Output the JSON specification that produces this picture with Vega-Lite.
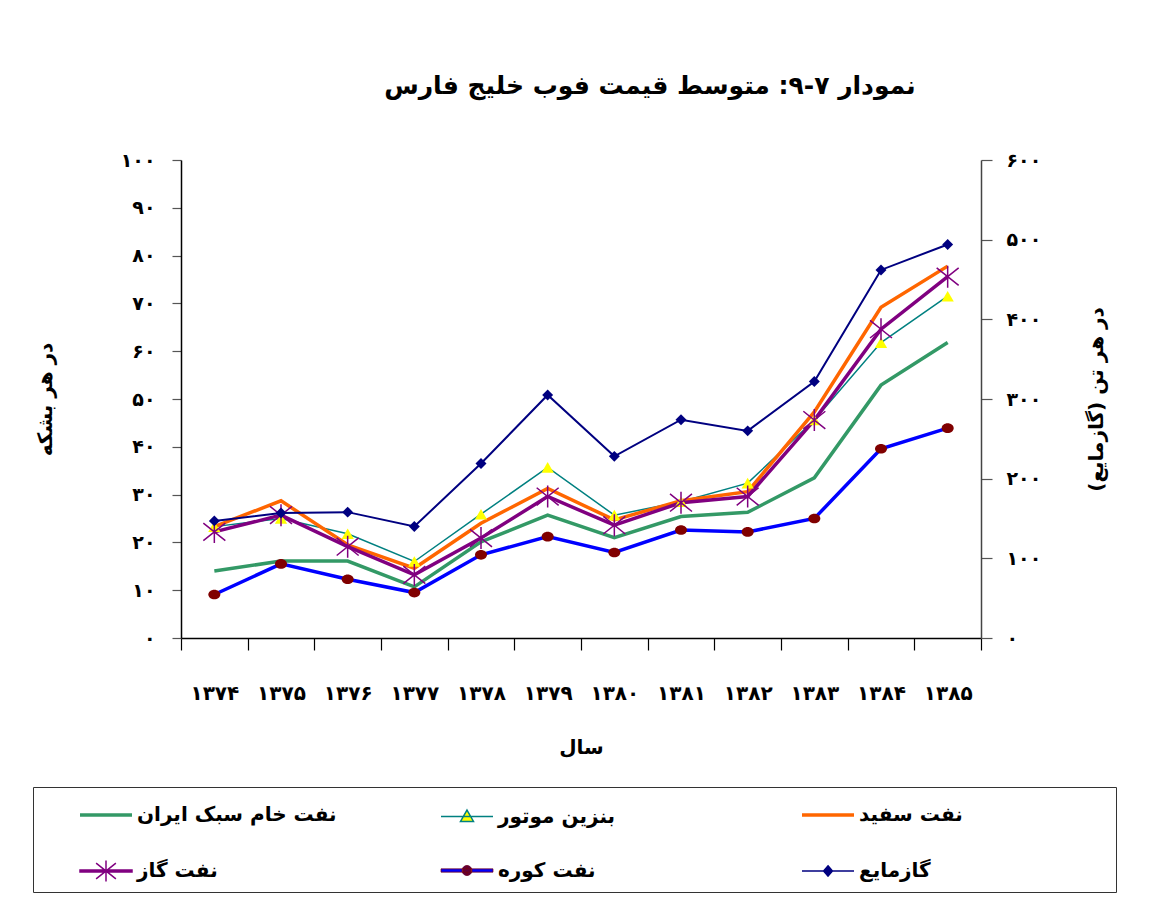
{
  "$schema": "https://vega.github.io/schema/vega-lite/v6.json",
  "width": 800,
  "height": 478,
  "autosize": {"type": "none"},
  "padding": {"left": 181, "top": 160, "right": 176, "bottom": 276},
  "background": "white",
  "title": {
    "text": "نمودار ۷-۹: متوسط قیمت فوب خلیج فارس",
    "font": "DejaVu Sans",
    "fontSize": 25,
    "fontWeight": "bold",
    "color": "black",
    "anchor": "middle",
    "dx": 69,
    "offset": 52
  },
  "data": {
    "values": [
      {"year": "۱۳۷۴", "series": "نفت خام سبک ایران", "value": 14.0},
      {"year": "۱۳۷۵", "series": "نفت خام سبک ایران", "value": 16.1},
      {"year": "۱۳۷۶", "series": "نفت خام سبک ایران", "value": 16.1},
      {"year": "۱۳۷۷", "series": "نفت خام سبک ایران", "value": 10.7},
      {"year": "۱۳۷۸", "series": "نفت خام سبک ایران", "value": 20.1},
      {"year": "۱۳۷۹", "series": "نفت خام سبک ایران", "value": 25.7},
      {"year": "۱۳۸۰", "series": "نفت خام سبک ایران", "value": 21.0},
      {"year": "۱۳۸۱", "series": "نفت خام سبک ایران", "value": 25.4},
      {"year": "۱۳۸۲", "series": "نفت خام سبک ایران", "value": 26.3},
      {"year": "۱۳۸۳", "series": "نفت خام سبک ایران", "value": 33.5},
      {"year": "۱۳۸۴", "series": "نفت خام سبک ایران", "value": 52.9},
      {"year": "۱۳۸۵", "series": "نفت خام سبک ایران", "value": 61.8},
      {"year": "۱۳۷۴", "series": "بنزین موتور", "value": 23.3},
      {"year": "۱۳۷۵", "series": "بنزین موتور", "value": 25.0},
      {"year": "۱۳۷۶", "series": "بنزین موتور", "value": 21.8},
      {"year": "۱۳۷۷", "series": "بنزین موتور", "value": 16.0},
      {"year": "۱۳۷۸", "series": "بنزین موتور", "value": 25.9},
      {"year": "۱۳۷۹", "series": "بنزین موتور", "value": 35.7},
      {"year": "۱۳۸۰", "series": "بنزین موتور", "value": 25.7},
      {"year": "۱۳۸۱", "series": "بنزین موتور", "value": 28.5},
      {"year": "۱۳۸۲", "series": "بنزین موتور", "value": 32.4},
      {"year": "۱۳۸۳", "series": "بنزین موتور", "value": 45.6},
      {"year": "۱۳۸۴", "series": "بنزین موتور", "value": 61.8},
      {"year": "۱۳۸۵", "series": "بنزین موتور", "value": 71.5},
      {"year": "۱۳۷۴", "series": "نفت سفید", "value": 23.3},
      {"year": "۱۳۷۵", "series": "نفت سفید", "value": 28.7},
      {"year": "۱۳۷۶", "series": "نفت سفید", "value": 19.5},
      {"year": "۱۳۷۷", "series": "نفت سفید", "value": 14.6},
      {"year": "۱۳۷۸", "series": "نفت سفید", "value": 24.0},
      {"year": "۱۳۷۹", "series": "نفت سفید", "value": 31.3},
      {"year": "۱۳۸۰", "series": "نفت سفید", "value": 24.7},
      {"year": "۱۳۸۱", "series": "نفت سفید", "value": 28.7},
      {"year": "۱۳۸۲", "series": "نفت سفید", "value": 30.6},
      {"year": "۱۳۸۳", "series": "نفت سفید", "value": 47.3},
      {"year": "۱۳۸۴", "series": "نفت سفید", "value": 69.2},
      {"year": "۱۳۸۵", "series": "نفت سفید", "value": 77.8},
      {"year": "۱۳۷۴", "series": "نفت گاز", "value": 22.2},
      {"year": "۱۳۷۵", "series": "نفت گاز", "value": 25.7},
      {"year": "۱۳۷۶", "series": "نفت گاز", "value": 19.1},
      {"year": "۱۳۷۷", "series": "نفت گاز", "value": 13.2},
      {"year": "۱۳۷۸", "series": "نفت گاز", "value": 20.9},
      {"year": "۱۳۷۹", "series": "نفت گاز", "value": 29.6},
      {"year": "۱۳۸۰", "series": "نفت گاز", "value": 23.6},
      {"year": "۱۳۸۱", "series": "نفت گاز", "value": 28.3},
      {"year": "۱۳۸۲", "series": "نفت گاز", "value": 29.6},
      {"year": "۱۳۸۳", "series": "نفت گاز", "value": 45.6},
      {"year": "۱۳۸۴", "series": "نفت گاز", "value": 64.6},
      {"year": "۱۳۸۵", "series": "نفت گاز", "value": 75.6},
      {"year": "۱۳۷۴", "series": "نفت کوره", "value": 9.1},
      {"year": "۱۳۷۵", "series": "نفت کوره", "value": 15.5},
      {"year": "۱۳۷۶", "series": "نفت کوره", "value": 12.3},
      {"year": "۱۳۷۷", "series": "نفت کوره", "value": 9.5},
      {"year": "۱۳۷۸", "series": "نفت کوره", "value": 17.4},
      {"year": "۱۳۷۹", "series": "نفت کوره", "value": 21.2},
      {"year": "۱۳۸۰", "series": "نفت کوره", "value": 17.9},
      {"year": "۱۳۸۱", "series": "نفت کوره", "value": 22.6},
      {"year": "۱۳۸۲", "series": "نفت کوره", "value": 22.2},
      {"year": "۱۳۸۳", "series": "نفت کوره", "value": 25.0},
      {"year": "۱۳۸۴", "series": "نفت کوره", "value": 39.6},
      {"year": "۱۳۸۵", "series": "نفت کوره", "value": 43.9},
      {"year": "۱۳۷۴", "series": "گازمایع", "value": 147},
      {"year": "۱۳۷۵", "series": "گازمایع", "value": 157},
      {"year": "۱۳۷۶", "series": "گازمایع", "value": 158},
      {"year": "۱۳۷۷", "series": "گازمایع", "value": 140},
      {"year": "۱۳۷۸", "series": "گازمایع", "value": 219},
      {"year": "۱۳۷۹", "series": "گازمایع", "value": 305},
      {"year": "۱۳۸۰", "series": "گازمایع", "value": 228},
      {"year": "۱۳۸۱", "series": "گازمایع", "value": 274},
      {"year": "۱۳۸۲", "series": "گازمایع", "value": 260},
      {"year": "۱۳۸۳", "series": "گازمایع", "value": 322},
      {"year": "۱۳۸۴", "series": "گازمایع", "value": 462},
      {"year": "۱۳۸۵", "series": "گازمایع", "value": 494}
    ]
  },
  "encoding": {
    "x": {
      "field": "year",
      "type": "ordinal",
      "scale": {"type": "band", "paddingInner": 0, "paddingOuter": 0},
      "axis": {
        "title": "سال",
        "labelAngle": 0,
        "labelFontSize": 20,
        "labelPadding": 33,
        "tickSize": 12,
        "tickBand": "extent",
        "tickColor": "black",
        "titlePadding": 34
      }
    }
  },
  "layer": [
    {
      "encoding": {
        "y": {
          "field": "value",
          "type": "quantitative",
          "scale": {"domain": [0, 100], "nice": false},
          "axis": {
            "title": "در هر بشکه",
            "values": [0, 10, 20, 30, 40, 50, 60, 70, 80, 90, 100],
            "labelExpr": "['۰','۱۰','۲۰','۳۰','۴۰','۵۰','۶۰','۷۰','۸۰','۹۰','۱۰۰'][round(datum.value/10)]",
            "labelFontSize": 19,
            "labelPadding": 17,
            "tickSize": 9,
            "titlePadding": 65
          }
        }
      },
      "layer": [
        {"transform": [{"filter": "datum.series == 'نفت خام سبک ایران'"}], "mark": {"type": "line", "color": "#339966", "strokeWidth": 3.5}},
        {"transform": [{"filter": "datum.series == 'بنزین موتور'"}], "mark": {"type": "line", "color": "#008080", "strokeWidth": 1.5}},
        {"transform": [{"filter": "datum.series == 'نفت سفید'"}], "mark": {"type": "line", "color": "#FF6600", "strokeWidth": 3.5}},
        {"transform": [{"filter": "datum.series == 'نفت گاز'"}], "mark": {"type": "line", "color": "#800080", "strokeWidth": 3.5}},
        {"transform": [{"filter": "datum.series == 'نفت کوره'"}], "mark": {"type": "line", "color": "#0000FF", "strokeWidth": 3.5}},
        {"transform": [{"filter": "datum.series == 'بنزین موتور'"}], "mark": {"type": "point", "shape": "triangle-up", "filled": true, "color": "#FFFF00", "size": 150, "opacity": 1}},
        {"transform": [{"filter": "datum.series == 'نفت گاز'"}], "mark": {"type": "point", "shape": "M-1,-0.8L1,0.8M-1,0.8L1,-0.8M0,-1L0,1", "filled": false, "color": "#800080", "strokeWidth": 1.5, "size": 484, "opacity": 1}},
        {"transform": [{"filter": "datum.series == 'نفت کوره'"}], "mark": {"type": "point", "shape": "M-1,0A1,0.8 0 1,0 1,0A1,0.8 0 1,0 -1,0Z", "filled": true, "color": "#800000", "size": 144, "opacity": 1}},
        {
          "transform": [{"filter": "false"}],
          "mark": {"type": "point", "filled": false, "opacity": 1},
          "encoding": {
            "shape": {
              "field": "series",
              "type": "nominal",
              "scale": {
                "domain": ["نفت خام سبک ایران", "بنزین موتور", "نفت سفید", "نفت گاز", "نفت کوره", "گازمایع"],
                "range": [
                  "M10.77,0L10.77,0M0,0.69L0,0.69M-1,0L1,0",
                  "M10.77,0L10.77,0M0,0.69L0,0.69M-1,0L1,0M0,-0.25L0.25,0.19L-0.25,0.19Z",
                  "M10.77,0L10.77,0M0,0.69L0,0.69M-1,0L1,0",
                  "M10.77,0L10.77,0M0,0.69L0,0.69M-1,-0.0385L1,-0.0385L1,0.0385L-1,0.0385ZM-0.38,-0.3L0.38,0.3M-0.38,0.3L0.38,-0.3M0,-0.4L0,0.4",
                  "M10.77,0L10.77,0M0,0.69L0,0.69M-1,-0.063L1,-0.063L1,0.063L-1,0.063ZM-0.0192,0a0.0192,0.0192 0 1,0 0.0385,0a0.0192,0.0192 0 1,0 -0.0385,0M-0.0385,0a0.0385,0.0385 0 1,0 0.0769,0a0.0385,0.0385 0 1,0 -0.0769,0M-0.0577,0a0.0577,0.0577 0 1,0 0.1154,0a0.0577,0.0577 0 1,0 -0.1154,0M-0.0769,0a0.0769,0.0769 0 1,0 0.1538,0a0.0769,0.0769 0 1,0 -0.1538,0M-0.0962,0a0.0962,0.0962 0 1,0 0.1923,0a0.0962,0.0962 0 1,0 -0.1923,0M-0.1154,0a0.1154,0.1154 0 1,0 0.2308,0a0.1154,0.1154 0 1,0 -0.2308,0M-0.1346,0a0.1346,0.1346 0 1,0 0.2692,0a0.1346,0.1346 0 1,0 -0.2692,0M-0.1538,0a0.1538,0.1538 0 1,0 0.3077,0a0.1538,0.1538 0 1,0 -0.3077,0M-0.1731,0a0.1731,0.1731 0 1,0 0.3462,0a0.1731,0.1731 0 1,0 -0.3462,0M-0.1923,0a0.1923,0.1923 0 1,0 0.3846,0a0.1923,0.1923 0 1,0 -0.3846,0",
                  "M10.77,0L10.77,0M0,0.69L0,0.69M-1,0L1,0M0,-0.2L0.17,0L0,0.2L-0.17,0Z"
                ]
              },
              "legend": {
                "orient": "none",
                "legendX": -148,
                "legendY": 627,
                "title": null,
                "direction": "horizontal",
                "columns": 3,
                "gridAlign": "all",
                "columnPadding": 0,
                "rowPadding": 4,
                "padding": 0,
                "strokeColor": "#333333",
                "labelFont": "DejaVu Sans",
                "labelFontSize": 20,
                "labelFontWeight": "bold",
                "labelColor": "black",
                "labelOffset": 3,
                "symbolOffset": 45,
                "labelLimit": 0,
                "symbolSize": 2704
              }
            },
            "stroke": {
              "field": "series",
              "type": "nominal",
              "scale": {
                "domain": ["نفت خام سبک ایران", "بنزین موتور", "نفت سفید", "نفت گاز", "نفت کوره", "گازمایع"],
                "range": ["#339966", "#008080", "#FF6600", "#800080", "#800000", "#000080"]
              }
            },
            "fill": {
              "field": "series",
              "type": "nominal",
              "scale": {
                "domain": ["نفت خام سبک ایران", "بنزین موتور", "نفت سفید", "نفت گاز", "نفت کوره", "گازمایع"],
                "range": ["#339966", "#FFFF00", "#FF6600", "#800080", "#0000FF", "#000080"]
              }
            },
            "strokeWidth": {
              "field": "series",
              "type": "nominal",
              "scale": {
                "type": "ordinal",
                "domain": ["نفت خام سبک ایران", "بنزین موتور", "نفت سفید", "نفت گاز", "نفت کوره", "گازمایع"],
                "range": [3.5, 1.5, 3.5, 1.5, 0.7, 1.5]
              }
            }
          }
        }
      ]
    },
    {
      "encoding": {
        "y": {
          "field": "value",
          "type": "quantitative",
          "scale": {"domain": [0, 600], "nice": false},
          "axis": {
            "orient": "right",
            "title": "در هر تن (گازمایع)",
            "titleAngle": 270,
            "values": [0, 100, 200, 300, 400, 500, 600],
            "labelExpr": "['۰','۱۰۰','۲۰۰','۳۰۰','۴۰۰','۵۰۰','۶۰۰'][round(datum.value/100)]",
            "labelFontSize": 19,
            "labelPadding": 14,
            "tickSize": 11,
            "titlePadding": 66,
            "domainColor": "#444444"
          }
        }
      },
      "layer": [
        {"transform": [{"filter": "datum.series == 'گازمایع'"}], "mark": {"type": "line", "color": "#000080", "strokeWidth": 2}},
        {"transform": [{"filter": "datum.series == 'گازمایع'"}], "mark": {"type": "point", "shape": "diamond", "filled": true, "color": "#000080", "size": 120, "opacity": 1}}
      ]
    }
  ],
  "resolve": {"scale": {"y": "independent"}},
  "config": {
    "view": {"stroke": null},
    "font": "DejaVu Sans",
    "axis": {
      "labelFont": "DejaVu Sans",
      "labelFontWeight": "bold",
      "labelColor": "black",
      "titleFont": "DejaVu Sans",
      "titleFontWeight": "bold",
      "titleFontSize": 20,
      "titleColor": "black",
      "grid": false,
      "domainColor": "black",
      "domainWidth": 1.5,
      "tickColor": "#555555",
      "tickWidth": 1.2
    }
  }
}
